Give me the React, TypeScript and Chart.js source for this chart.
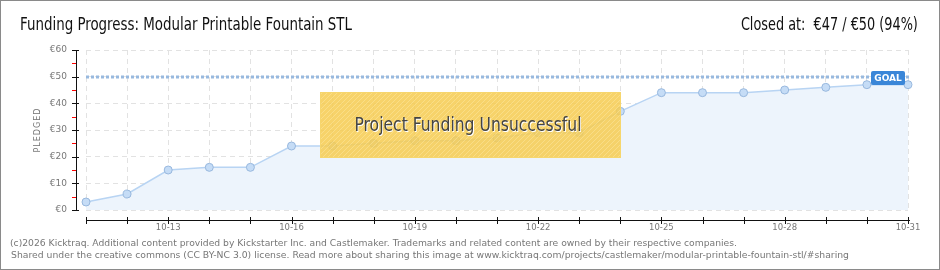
import React, { useEffect, useLayoutEffect, useRef } from 'react';
import { Chart, registerables } from 'chart.js';

Chart.register(...registerables);

const DATES = ['10-11', '10-12', '10-13', '10-14', '10-15', '10-16', '10-17', '10-18', '10-19', '10-20', '10-21', '10-22', '10-23', '10-24', '10-25', '10-26', '10-27', '10-28', '10-29', '10-30', '10-31'];
const PLEDGED = [3, 6, 15, 16, 16, 24, 24, 25, 26, 26, 27, 29, 29, 37, 44, 44, 44, 45, 46, 47, 47];
const GOAL = 50;
const Y_MIN = 0;
const Y_MAX = 60;
const Y_STEP = 10;
const Y_MINOR_STEP = 5;
const X_LABELED = ['10-13', '10-16', '10-19', '10-22', '10-25', '10-28', '10-31'];
const TITLE = 'Funding Progress: Modular Printable Fountain STL';
const CLOSED = 'Closed at:  €47 / €50 (94%)';
const BANNER = 'Project Funding Unsuccessful';
const Y_TITLE = 'PLEDGED';
const GOAL_LABEL = 'GOAL';
const FOOTER_1 = '(c)2026 Kicktraq. Additional content provided by Kickstarter Inc. and Castlemaker. Trademarks and related content are owned by their respective companies.';
const FOOTER_2 = 'Shared under the creative commons (CC BY-NC 3.0) license. Read more about sharing this image at www.kicktraq.com/projects/castlemaker/modular-printable-fountain-stl/#sharing';

const NARROW = '"DejaVu Sans Condensed", "Liberation Sans Narrow", sans-serif';

function makeHatch(): CanvasPattern | string {
  const c = document.createElement('canvas');
  c.width = 5;
  c.height = 5;
  const g = c.getContext('2d');
  if (!g) return 'rgba(246,204,80,0.85)';
  g.fillStyle = 'rgba(246,204,82,0.86)';
  g.fillRect(0, 0, 5, 5);
  g.strokeStyle = 'rgba(255,240,190,0.35)';
  g.lineWidth = 1;
  g.beginPath();
  g.moveTo(-1, 6);
  g.lineTo(6, -1);
  g.stroke();
  const ctx = document.createElement('canvas').getContext('2d');
  const p = ctx ? ctx.createPattern(c, 'repeat') : null;
  return p || 'rgba(246,204,80,0.85)';
}

const overlayPlugin = {
  id: 'kicktraqOverlay',
  afterDatasetsDraw(chart: any) {
    const { ctx, chartArea, scales } = chart;
    const xs = scales.x;
    const ys = scales.y;
    ctx.save();

    // goal line
    const gy = Math.round(ys.getPixelForValue(GOAL));
    ctx.strokeStyle = '#98b9df';
    ctx.lineWidth = 3;
    ctx.setLineDash([3, 2]);
    ctx.beginPath();
    ctx.moveTo(chartArea.left, gy);
    ctx.lineTo(chartArea.right + 2, gy);
    ctx.stroke();
    ctx.setLineDash([]);

    // axes (offset from plot area)
    const ax = chartArea.left - 10;
    const ay = chartArea.bottom + 10;
    const top = Math.round(ys.getPixelForValue(Y_MAX));
    const bot = Math.round(ys.getPixelForValue(Y_MIN));
    ctx.fillStyle = '#111';
    ctx.fillRect(ax, top, 1, bot - top + 1);
    for (let v = Y_MIN; v <= Y_MAX; v += Y_MINOR_STEP) {
      const py = Math.round(ys.getPixelForValue(v));
      const major = v % Y_STEP === 0;
      ctx.fillStyle = major ? '#111' : '#ff0000';
      ctx.fillRect(ax - 4, py, major ? 7 : 4, 1);
    }
    ctx.fillStyle = '#111';
    ctx.fillRect(chartArea.left, ay, chartArea.right + 2 - chartArea.left, 1);
    for (let i = 0; i < DATES.length; i++) {
      const px = Math.round(xs.getPixelForValue(i));
      ctx.fillRect(px, ay - 3, 1, 7);
    }

    // unsuccessful banner
    const bx = 320, by = 92, bw = 301, bh = 66;
    ctx.fillStyle = makeHatch() as any;
    ctx.fillRect(bx, by, bw, bh);
    ctx.strokeStyle = 'rgba(246,214,110,0.9)';
    ctx.lineWidth = 1;
    ctx.strokeRect(bx + 0.5, by + 0.5, bw - 1, bh - 1);

    // goal label
    const lw = 34, lh = 14;
    const lx = chartArea.right - 3 - lw;
    const ly = gy - 6;
    ctx.fillStyle = '#3a86d8';
    ctx.beginPath();
    const r = 2;
    ctx.moveTo(lx + r, ly);
    ctx.lineTo(lx + lw - r, ly);
    ctx.quadraticCurveTo(lx + lw, ly, lx + lw, ly + r);
    ctx.lineTo(lx + lw, ly + lh - r);
    ctx.quadraticCurveTo(lx + lw, ly + lh, lx + lw - r, ly + lh);
    ctx.lineTo(lx + r, ly + lh);
    ctx.quadraticCurveTo(lx, ly + lh, lx, ly + lh - r);
    ctx.lineTo(lx, ly + r);
    ctx.quadraticCurveTo(lx, ly, lx + r, ly);
    ctx.fill();
    ctx.fillStyle = '#fff';
    ctx.font = 'bold 9px "DejaVu Sans", sans-serif';
    ctx.textAlign = 'center';
    ctx.textBaseline = 'middle';
    ctx.fillText(GOAL_LABEL, lx + lw / 2, ly + lh / 2 + 0.5);

    ctx.restore();
  },
};

function fitWidth(el: HTMLElement | null, target: number) {
  if (!el) return;
  el.style.transform = 'none';
  const w = el.getBoundingClientRect().width;
  if (w > 0) el.style.transform = `scaleX(${target / w})`;
}

export default function App() {
  const canvasRef = useRef<HTMLCanvasElement | null>(null);
  const titleRef = useRef<HTMLSpanElement | null>(null);
  const closedRef = useRef<HTMLSpanElement | null>(null);
  const bannerRef = useRef<HTMLSpanElement | null>(null);
  const foot1Ref = useRef<HTMLSpanElement | null>(null);
  const foot2Ref = useRef<HTMLSpanElement | null>(null);

  useLayoutEffect(() => {
    fitWidth(titleRef.current, 332);
    fitWidth(closedRef.current, 177);
    fitWidth(bannerRef.current, 227);
    fitWidth(foot1Ref.current, 727);
    fitWidth(foot2Ref.current, 838);
  }, []);

  useEffect(() => {
    const canvas = canvasRef.current;
    if (!canvas) return;
    const chart = new Chart(canvas, {
      type: 'line',
      data: {
        labels: DATES,
        datasets: [
          {
            data: PLEDGED,
            borderColor: '#b8d4f3',
            borderWidth: 1.5,
            backgroundColor: '#edf4fc',
            fill: 'origin',
            tension: 0,
            pointRadius: 4,
            pointBorderWidth: 1,
            pointBackgroundColor: '#c5dcf6',
            pointBorderColor: '#98b8de',
            clip: false as any,
          },
        ],
      },
      options: {
        animation: false,
        responsive: false,
        maintainAspectRatio: false,
        layout: { padding: { left: 0, right: 32, top: 50, bottom: 0 } },
        plugins: {
          legend: { display: false },
          tooltip: { enabled: false },
          title: { display: false },
        },
        scales: {
          x: {
            type: 'category',
            offset: false,
            grid: { display: true, color: '#e2e2e2', lineWidth: 1, drawTicks: false },
            border: { display: false, dash: [5, 4] },
            ticks: {
              autoSkip: false,
              maxRotation: 0,
              minRotation: 0,
              padding: 13,
              color: '#777',
              font: { family: '"DejaVu Sans", sans-serif', size: 8.5 },
              callback: (_v: any, i: number) => (X_LABELED.includes(DATES[i]) ? DATES[i] : ''),
            },
            afterFit: (s: any) => {
              s.height = 60;
            },
          },
          y: {
            min: Y_MIN,
            max: Y_MAX,
            grid: { display: true, color: '#e2e2e2', lineWidth: 1, drawTicks: false },
            border: { display: false, dash: [5, 4] },
            ticks: {
              stepSize: Y_STEP,
              padding: 19,
              color: '#777',
              font: { family: '"DejaVu Sans", sans-serif', size: 9 },
              callback: (v: any) => '€' + v,
            },
            afterFit: (s: any) => {
              s.width = 86;
            },
          },
        },
      },
      plugins: [overlayPlugin],
    });
    return () => chart.destroy();
  }, []);

  return (
    <div style={{ position: 'absolute', left: 0, top: 0, width: 940, height: 270, background: '#fff', overflow: 'hidden' }}>
      <canvas ref={canvasRef} width={940} height={270} style={{ position: 'absolute', left: 0, top: 0, width: 940, height: 270 }} />
      <div style={{ position: 'absolute', left: 20, top: 15, fontFamily: NARROW, fontSize: 18, lineHeight: '18px', color: '#111', whiteSpace: 'nowrap' }}>
        <span ref={titleRef} style={{ display: 'inline-block', transformOrigin: 'left center' }}>{TITLE}</span>
      </div>
      <div style={{ position: 'absolute', right: 22, top: 15, fontFamily: NARROW, fontSize: 18, lineHeight: '18px', color: '#111', whiteSpace: 'pre', textAlign: 'right' }}>
        <span ref={closedRef} style={{ display: 'inline-block', transformOrigin: 'right center' }}>{CLOSED}</span>
      </div>
      <div style={{ position: 'absolute', left: 8, top: 124, width: 60, height: 12, lineHeight: '12px', textAlign: 'center', transform: 'rotate(-90deg)', fontFamily: '"DejaVu Sans", sans-serif', fontSize: 8, letterSpacing: 1, color: '#777' }}>{Y_TITLE}</div>
      <div style={{ position: 'absolute', left: 318, top: 114, width: 300, textAlign: 'center', fontFamily: NARROW, fontSize: 20, lineHeight: '21px', color: '#444', textShadow: '1px 1px 0 #fff', whiteSpace: 'nowrap' }}>
        <span ref={bannerRef} style={{ display: 'inline-block', transformOrigin: 'center center' }}>{BANNER}</span>
      </div>
      <div style={{ position: 'absolute', left: 10, top: 237, fontFamily: '"DejaVu Sans", sans-serif', fontSize: 9.3, lineHeight: '12px', color: '#777', whiteSpace: 'nowrap' }}>
        <div><span ref={foot1Ref} style={{ display: 'inline-block', transformOrigin: 'left center' }}>{FOOTER_1}</span></div>
        <div style={{ paddingLeft: 1 }}><span ref={foot2Ref} style={{ display: 'inline-block', transformOrigin: 'left center' }}>{FOOTER_2}</span></div>
      </div>
      <div style={{ position: 'absolute', left: 0, top: 0, width: 940, height: 270, boxSizing: 'border-box', border: '1px solid #8a8a8a', pointerEvents: 'none' }} />
    </div>
  );
}
